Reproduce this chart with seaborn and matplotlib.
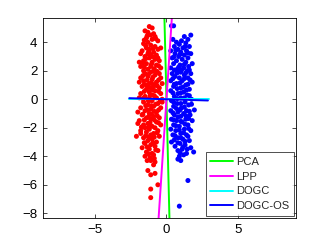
import numpy as np
import pandas as pd
import seaborn as sns
import matplotlib
matplotlib.use("Agg")
import matplotlib.pyplot as plt

# class 1 (red) points
red_x = [-1.2, -1.0, -1.5, -1.3, -0.9, -1.1, -0.8, -1.4, -1.0, -0.6, -1.3,
         -1.6, -1.1, -0.8, -1.4, -0.6, -1.2, -1.7, -0.9, -1.3, -0.7, -1.5, -1.0, -0.4, -1.8,
         -1.2, -0.8, -1.6, -0.5, -1.0, -1.4, -0.7, -1.8, -1.1, -0.4, -1.3, -0.9, -1.6, -0.6, -1.9,
         -1.1, -0.5, -1.5, -0.8, -1.3, -1.8, -0.4, -1.0, -1.6, -0.7, -1.2, -0.3, -1.4, -0.9, -1.9,
         -1.7, -1.1, -0.5, -1.4, -0.8, -1.2, -1.8, -0.4, -1.0, -1.5, -0.7, -1.3, -0.3, -1.9, -0.9,
         -1.0, -1.6, -0.6, -1.3, -0.9, -1.8, -0.4, -1.1, -1.5, -0.7, -1.2, -2.0, -0.3,
         -1.7, -0.9, -1.4, -0.5, -1.1, -1.9, -0.7, -1.3, -1.6, -0.4, -1.0, -1.5, -0.8, -2.0,
         -1.2, -1.8, -0.6, -1.4, -0.9, -1.1, -2.1, -0.5, -1.6, -1.0, -1.3, -0.7, -1.8,
         -1.5, -1.1, -0.8, -1.7, -1.2, -0.6, -1.4, -1.0, -1.5, -0.9,
         -0.8, -1.1, -0.9, -1.3, -0.8, -1.1, -0.6, -1.1, -1.1,
         -1.45, -0.95, -1.25, -0.75, -1.45, -1.05, -0.55, -1.55, -0.85, -1.25, -0.65, -1.65,
         -0.95, -0.55, -1.35, -1.05, -1.55, -0.65, -1.25, -0.95, -1.55, -0.55, -1.15, -0.85,
         -1.65, -0.45, -1.25, -0.75, -1.45, -1.05, -0.55, -1.35, -0.85, -1.65, -1.05, -0.65,
         -1.25, -1.55, -0.85, -1.15, -0.55, -1.75, -1.25, -0.65, -1.45, -0.85, -1.25, -1.55,
         -0.95, -1.35, -0.75, -1.25, -1.15, -0.85, -1.35, -1.35, -0.75, -1.55, -1.15, -1.65]
red_y = [5.1, 5.0, 4.8, 4.7, 4.6, 4.5, 4.4, 4.3, 4.2, 4.1, 4.0,
         3.9, 3.8, 3.7, 3.6, 3.5, 3.5, 3.4, 3.3, 3.2, 3.1, 3.0, 3.0, 3.6, 3.2,
         2.9, 2.8, 2.7, 2.7, 2.6, 2.5, 2.4, 2.3, 2.3, 2.2, 2.1, 2.0, 2.0, 2.9, 2.6,
         1.9, 1.8, 1.8, 1.7, 1.6, 1.5, 1.5, 1.4, 1.3, 1.2, 1.1, 1.1, 1.0, 1.0, 1.2,
         0.9, 0.8, 0.8, 0.7, 0.6, 0.5, 0.4, 0.4, 0.3, 0.2, 0.1, 0.0, 0.0, 0.1, 0.9,
         -0.1, -0.2, -0.3, -0.4, -0.5, -0.6, -0.6, -0.7, -0.8, -0.9, -1.0, -0.9, -0.2,
         -1.1, -1.2, -1.3, -1.3, -1.4, -1.5, -1.6, -1.7, -1.8, -1.8, -1.9, -2.0, -2.0, -1.7,
         -2.1, -2.2, -2.2, -2.3, -2.4, -2.5, -2.6, -2.6, -2.7, -2.8, -2.9, -3.0, -2.4,
         -3.1, -3.2, -3.3, -3.4, -3.5, -3.6, -3.7, -3.8, -4.0, -3.9,
         -4.4, -4.3, -4.6, -5.0, -5.2, -5.3, -6.0, -6.3, -6.9,
         3.75, 3.55, 3.35, 2.95, 2.85, 2.45, 2.35, 2.25, 2.15, 1.75, 1.95, 1.65,
         1.55, 1.35, 1.35, 1.15, 1.05, 0.95, 0.85, 0.65, 0.55, 0.55, 0.25, 0.25,
         0.05, -0.15, -0.15, -0.35, -0.45, -0.45, -0.75, -0.75, -0.85, -1.05, -1.05, -1.15,
         -1.25, -1.45, -1.45, -1.65, -1.65, -1.95, -1.95, -2.35, -2.55, -2.65, -2.65, -3.05,
         -3.05, -3.35, -3.55, -3.85, -4.1, -4.15, -4.3, 4.45, 4.25, 4.15, 3.15, 2.55]

# class 2 (blue) points
blue_x = [0.35, 0.5, 1.7, 1.25, 0.45, 1.5, 1.05, 0.7, 1.35, 0.9, 1.6, 0.55, 1.15, 0.8, 1.4,
          0.3, 1.0, 1.7, 0.6, 1.25, 0.85, 1.5, 0.4, 1.1, 0.7, 1.35, 1.8, 0.5, 0.95, 1.55,
          0.3, 1.2, 0.75, 1.45, 1.0, 0.4, 1.7, 1.25, 0.6, 0.9, 1.5, 0.3, 1.1, 1.8, 0.7,
          1.35, 0.5, 1.0, 1.6, 0.3, 1.2, 0.8, 1.45, 0.55, 1.0, 1.75, 0.35, 1.3, 0.75, 1.55,
          0.5, 1.05, 1.95, 0.3, 1.4, 0.8, 1.2, 0.55, 1.65, 1.0, 0.35, 1.35, 0.7, 1.8, 1.1,
          0.5, 1.5, 0.9, 1.25, 0.3, 0.65, 1.7, 1.0, 0.45, 1.4, 0.8, 1.15, 1.6, 0.35, 0.95,
          1.3, 0.6, 1.7, 1.1, 0.8, 1.4, 1.9, 0.9, 0.8, 1.0, 1.5, 0.9,
          0.65, 1.3, 0.95, 1.5, 0.5, 1.25, 0.85, 1.6, 0.55, 1.05, 1.35, 0.75, 0.45, 1.25,
          1.65, 0.95, 0.55, 1.5, 1.15, 0.75, 1.4, 0.45, 1.0, 1.6, 0.75, 1.25, 0.5, 1.0,
          1.75, 1.25, 0.7, 1.6, 0.95, 0.45, 1.35, 0.8, 1.55, 0.5, 1.0, 1.3, 0.65, 1.55,
          0.9, 1.2, 0.6, 1.5, 1.0, 0.55, 1.3, 0.8, 1.15, 1.45, 0.95, 1.2]
blue_y = [5.15, 5.15, 4.5, 4.4, 4.2, 4.2, 4.1, 4.0, 3.95, 3.85, 3.7, 3.7, 3.6, 3.5, 3.4,
          3.4, 3.3, 3.2, 3.2, 3.1, 3.0, 2.9, 2.9, 2.8, 2.7, 2.6, 2.5, 2.5, 2.4, 2.3,
          2.2, 2.2, 2.1, 2.0, 1.9, 1.8, 1.8, 1.7, 1.6, 1.5, 1.5, 1.3, 1.3, 1.2, 1.1,
          1.0, 0.9, 0.8, 0.7, 0.6, 0.5, 0.4, 0.3, 0.2, 0.1, 0.0, -0.1, -0.2, -0.3, -0.4,
          -0.5, -0.6, -0.75, -0.8, -0.8, -0.9, -1.0, -1.1, -1.1, -1.2, -1.4, -1.4, -1.5, -1.5, -1.6,
          -1.8, -1.8, -1.9, -2.1, -2.1, -2.2, -2.2, -2.4, -2.5, -2.5, -2.7, -2.8, -2.9, -3.0, -3.1,
          -3.2, -3.3, -3.4, -3.5, -3.6, -3.8, -3.7, -4.0, -4.2, -4.3, -5.7, -7.5,
          3.45, 3.7, 3.15, 3.25, 2.95, 2.45, 2.25, 2.05, 2.05, 2.05, 1.85, 1.85, 1.45, 1.45,
          1.35, 1.15, 1.05, 1.05, 0.85, 0.75, 0.65, 0.45, 0.45, 0.25, 0.05, 0.1, -0.2, -0.3,
          -0.35, -0.55, -0.65, -0.85, -0.75, -0.95, -1.15, -1.25, -1.35, -1.45, -1.55, -1.75, -1.85, -2.05,
          -2.15, -2.35, -2.55, -2.6, -2.7, -2.85, -2.95, -3.05, -3.35, -3.5, -3.75, -3.9]

# projection directions (dx, dy) and extents along them
methods = ["PCA", "LPP", "DOGC", "DOGC-OS"]
dir_x = [-0.025, 0.066, 1.0, 1.0]
dir_y = [1.0, 1.0, 0.0, -0.03]
t_lo = [-12, -12, -2.6, -2.6]
t_hi = [12, 12, 2.95, 2.9]
line_colors = ["#00ff00", "#ff00ff", "#00ffff", "#0000ff"]

df = pd.DataFrame({
    "x": red_x + blue_x,
    "y": red_y + blue_y,
    "cls": ["c1"] * len(red_x) + ["c2"] * len(blue_x),
})

sns.set_style("white")
plt.rcParams["font.family"] = ["Liberation Sans", "DejaVu Sans"]

fig = plt.figure(figsize=(3.27, 2.46), dpi=100)
ax = fig.add_axes([0.1315, 0.1138, 0.7735, 0.813])

sns.scatterplot(data=df, x="x", y="y", hue="cls", palette={"c1": "#ff0000", "c2": "#0000ff"},
                s=13, linewidth=0, legend=False, ax=ax)

for name, dx, dy, lo, hi, c in zip(methods, dir_x, dir_y, t_lo, t_hi, line_colors):
    v = np.array([dx, dy]) / np.hypot(dx, dy)
    ax.plot([lo * v[0], hi * v[0]], [lo * v[1], hi * v[1]], color=c, lw=1.4, label=name)

ax.set_xlim(-8.63, 9.05)
ax.set_ylim(-8.33, 5.7)
ax.set_xticks([-5, 0, 5])
ax.set_yticks([-8, -6, -4, -2, 0, 2, 4])
ax.set_xlabel("")
ax.set_ylabel("")
ax.tick_params(direction="in", length=3, width=0.5, labelsize=9.5, top=True, right=True,
               bottom=True, left=True, colors="black", pad=4)
for sp in ax.spines.values():
    sp.set_color("black")
    sp.set_linewidth(0.6)

leg = ax.legend(loc="lower right", fontsize=8, frameon=True, fancybox=False,
                handlelength=2.0, labelspacing=0.42, borderaxespad=0.2, handletextpad=0.3,
                borderpad=0.42)
leg.get_frame().set_edgecolor("black")
leg.get_frame().set_linewidth(0.6)

fig.savefig("out.png", dpi=100)
